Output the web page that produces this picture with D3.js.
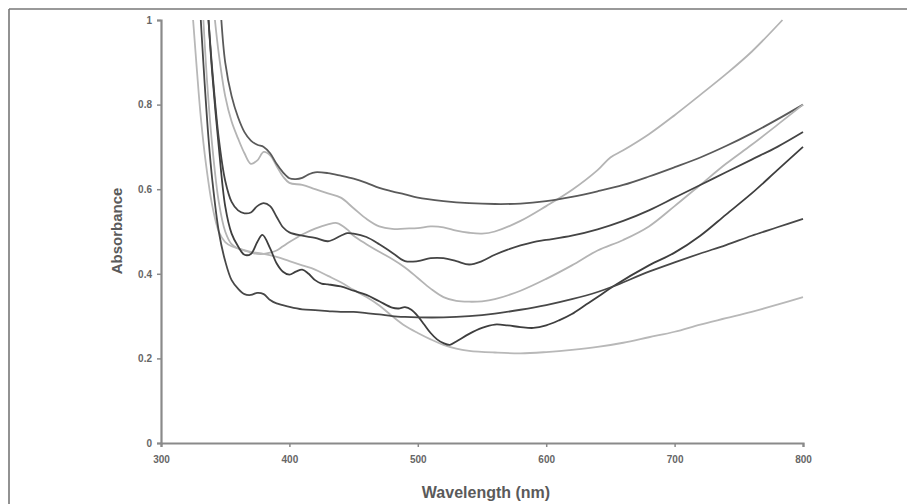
<!DOCTYPE html>
<html>
<head>
<meta charset="utf-8">
<script src="https://cdn.jsdelivr.net/npm/d3@7"></script>
<style>
  html, body { margin: 0; padding: 0; background: #fff; }
  svg { display: block; }
</style>
</head>
<body>
<svg id="chart" width="907" height="504"></svg>
<script>
// ---- Data ----
const xTicks = [300, 400, 500, 600, 700, 800];
const yTicks = [0, 0.2, 0.4, 0.6, 0.8, 1];
const yTickLabels = ["0", "0.2", "0.4", "0.6", "0.8", "1"];

// Series A: light grey, rises off the top near 784 nm
const wlA  = [342,345,350,355,360,365,370,375,380,385,390,395,400,410,420,430,440,450,460,470,480,490,500,510,520,530,540,550,560,580,600,620,640,650,660,680,700,720,740,760,784];
const absA = [1.0,0.92,0.82,0.76,0.72,0.685,0.66,0.668,0.688,0.68,0.655,0.63,0.615,0.61,0.6,0.59,0.58,0.555,0.53,0.512,0.506,0.507,0.508,0.512,0.51,0.502,0.497,0.495,0.5,0.525,0.56,0.598,0.645,0.675,0.692,0.73,0.775,0.823,0.872,0.925,1.0];

// Series B: dark grey, top curve ending at 0.80
const wlB  = [347,350,355,360,365,370,375,380,385,390,395,400,405,410,415,420,430,440,450,460,470,480,490,500,520,540,560,580,600,620,640,660,680,700,720,740,760,780,800];
const absB = [1.0,0.9,0.82,0.77,0.735,0.715,0.705,0.7,0.685,0.66,0.64,0.626,0.624,0.627,0.635,0.64,0.638,0.632,0.625,0.615,0.603,0.595,0.588,0.58,0.572,0.567,0.565,0.566,0.572,0.582,0.595,0.61,0.63,0.652,0.675,0.702,0.732,0.765,0.8];

// Series C: light grey, bump at ~437 nm, ending at 0.80
const wlC  = [333,336,340,345,350,355,360,365,370,375,380,385,390,395,400,410,420,430,437,445,450,460,470,480,490,500,510,520,530,540,550,560,580,600,620,640,660,680,700,720,740,760,780,800];
const absC = [1.0,0.85,0.7,0.57,0.5,0.47,0.46,0.455,0.45,0.447,0.447,0.45,0.455,0.465,0.475,0.493,0.507,0.517,0.52,0.505,0.49,0.47,0.452,0.435,0.415,0.39,0.365,0.345,0.336,0.334,0.335,0.34,0.36,0.388,0.42,0.455,0.48,0.512,0.56,0.61,0.66,0.705,0.752,0.8];

// Series D: light grey, lowest at the red end
const wlD  = [325,328,331,335,340,345,350,355,360,370,380,390,400,410,420,430,440,450,460,470,480,490,500,510,520,530,540,560,580,600,620,640,660,680,700,720,740,760,780,800];
const absD = [1.0,0.88,0.77,0.66,0.56,0.5,0.475,0.465,0.46,0.452,0.447,0.44,0.43,0.42,0.41,0.395,0.38,0.362,0.345,0.325,0.3,0.277,0.26,0.245,0.232,0.223,0.218,0.214,0.212,0.215,0.22,0.227,0.237,0.25,0.263,0.28,0.295,0.31,0.327,0.345];

// Series E: dark, bump 0.49 at 380 nm, minimum ~0.23 at 525 nm, ending at 0.70
const wlE  = [337,340,345,350,355,360,365,370,375,379,385,390,395,400,405,410,415,420,425,430,440,450,460,470,480,485,490,495,500,505,510,515,520,525,530,540,550,560,570,580,590,600,610,620,630,640,652,680,700,720,740,760,780,800];
const absE = [1.0,0.87,0.7,0.56,0.495,0.465,0.445,0.447,0.475,0.492,0.46,0.425,0.405,0.398,0.405,0.41,0.4,0.385,0.377,0.375,0.37,0.36,0.35,0.335,0.32,0.318,0.321,0.315,0.3,0.28,0.26,0.245,0.236,0.232,0.24,0.258,0.272,0.28,0.278,0.274,0.272,0.278,0.29,0.305,0.325,0.345,0.37,0.42,0.45,0.49,0.54,0.59,0.645,0.7];

// Series F: dark, lowest at the blue end, ending at 0.53
const wlF  = [331,334,337,340,345,350,355,360,365,370,375,380,385,390,400,410,420,430,440,450,460,470,480,490,500,520,540,560,580,600,620,640,652,680,700,720,740,760,780,800];
const absF = [1.0,0.85,0.72,0.62,0.5,0.43,0.385,0.365,0.352,0.35,0.355,0.352,0.338,0.33,0.322,0.316,0.314,0.312,0.31,0.31,0.307,0.304,0.3,0.298,0.297,0.297,0.3,0.306,0.315,0.326,0.34,0.357,0.37,0.405,0.427,0.448,0.468,0.49,0.51,0.53];

// Series G: dark, middle curve ending at 0.735
const wlG  = [337,340,345,350,355,360,365,370,375,380,385,390,395,400,410,420,430,440,445,450,460,470,480,490,500,510,520,530,540,550,560,570,580,590,600,620,640,660,680,700,720,740,760,780,800];
const absG = [1.0,0.88,0.72,0.62,0.57,0.55,0.543,0.545,0.56,0.567,0.56,0.535,0.51,0.498,0.49,0.485,0.477,0.49,0.496,0.495,0.487,0.47,0.45,0.43,0.43,0.437,0.437,0.43,0.422,0.43,0.445,0.457,0.467,0.475,0.48,0.49,0.505,0.525,0.55,0.58,0.61,0.64,0.67,0.70,0.735];

const seriesNames = ["A","B","C","D","E","F","G"];
const seriesWl  = [wlA, wlB, wlC, wlD, wlE, wlF, wlG];
const seriesAbs = [absA, absB, absC, absD, absE, absF, absG];
const seriesColors = ["#b4b4b4", "#5a5a5a", "#b4b4b4", "#b8b8b8", "#3e3e3e", "#484848", "#444444"];

// ---- Drawing ----
const svg = d3.select("#chart");
const W = 907, H = 504;

// Outer frame (top and left edges visible)
svg.append("line").attr("x1", 9).attr("y1", 9).attr("x2", W).attr("y2", 9)
   .attr("stroke", "#777").attr("stroke-width", 1.6);
svg.append("line").attr("x1", 9).attr("y1", 9).attr("x2", 9).attr("y2", H)
   .attr("stroke", "#777").attr("stroke-width", 1.6);

const x = d3.scaleLinear().domain([300, 800]).range([161, 803]);
const y = d3.scaleLinear().domain([0, 1]).range([443, 20]);

svg.append("defs").append("clipPath").attr("id", "plotclip")
  .append("rect").attr("x", 161).attr("y", 19).attr("width", 645).attr("height", 425);

const line = d3.line()
  .x(d => x(d[0])).y(d => y(d[1]))
  .curve(d3.curveCatmullRom.alpha(0.5));

const g = svg.append("g").attr("clip-path", "url(#plotclip)");
seriesNames.forEach((name, i) => {
  const pts = seriesWl[i].map((w, j) => [w, seriesAbs[i][j]]);
  g.append("path")
    .datum(pts)
    .attr("d", line)
    .attr("fill", "none")
    .attr("stroke", seriesColors[i])
    .attr("stroke-width", 1.8)
    .attr("stroke-linejoin", "round");
});

// Axes
const axisColor = "#8a8a8a";
const xAxis = d3.axisBottom(x).tickValues(xTicks).tickSize(4).tickPadding(9).tickFormat(d3.format("d"));
const yAxis = d3.axisLeft(y).tickValues(yTicks).tickSize(4).tickPadding(5)
  .tickFormat((d, i) => yTickLabels[i]);

const gx = svg.append("g").attr("transform", "translate(0,443)").call(xAxis);
const gy = svg.append("g").attr("transform", "translate(161,0)").call(yAxis);

[gx, gy].forEach(a => {
  a.select(".domain").attr("stroke", axisColor).attr("stroke-width", 2.2);
  a.selectAll(".tick line").attr("stroke", axisColor).attr("stroke-width", 1.5);
  a.selectAll(".tick text")
    .attr("fill", "#666")
    .style("font-family", "Liberation Sans, Arial, sans-serif")
    .style("font-size", "10px")
    .style("font-weight", "bold");
});

// Axis titles
svg.append("text")
  .attr("x", 486).attr("y", 498)
  .attr("text-anchor", "middle")
  .attr("fill", "#5a5a5a")
  .style("font-family", "Liberation Sans, Arial, sans-serif")
  .style("font-size", "16px")
  .style("font-weight", "bold")
  .text("Wavelength (nm)");

svg.append("text")
  .attr("transform", "translate(122,231) rotate(-90)")
  .attr("text-anchor", "middle")
  .attr("fill", "#5a5a5a")
  .style("font-family", "Liberation Sans, Arial, sans-serif")
  .style("font-size", "15px")
  .style("font-weight", "bold")
  .text("Absorbance");
</script>
</body>
</html>
